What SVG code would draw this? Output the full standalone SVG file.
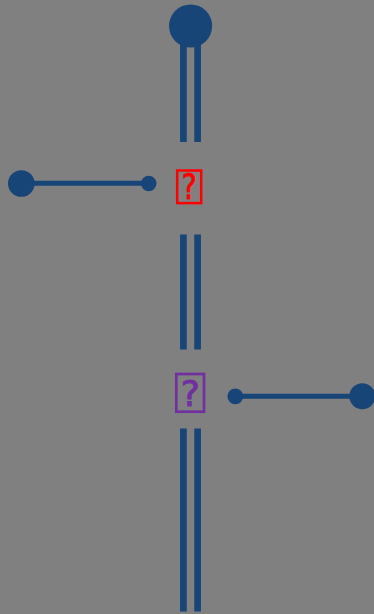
<svg xmlns="http://www.w3.org/2000/svg" width="374" height="614" viewBox="0 0 374 614">
<style>
.bg{fill:#808080}
.dot{fill:#174578}
.wire{stroke:#174578;fill:none}
.v{stroke-width:6.7}
.h{stroke-width:5}
.q{font-family:"DejaVu Sans",sans-serif;text-anchor:middle;stroke-width:0.9}
</style>
<rect class="bg" x="0" y="0" width="374" height="614"/>
<g id="connectors">
<line class="wire v" x1="183.4" y1="30" x2="183.4" y2="142"/>
<line class="wire v" x1="197.6" y1="30" x2="197.6" y2="142"/>
<line class="wire v" x1="183.4" y1="234.5" x2="183.4" y2="349.5"/>
<line class="wire v" x1="197.6" y1="234.5" x2="197.6" y2="349.5"/>
<line class="wire v" x1="183.4" y1="428.5" x2="183.4" y2="611.5"/>
<line class="wire v" x1="197.6" y1="428.5" x2="197.6" y2="611.5"/>
<line class="wire h" x1="21.3" y1="183.3" x2="148.7" y2="183.3"/>
<line class="wire h" x1="235.3" y1="396.3" x2="362.3" y2="396.3"/>
</g>
<g id="top-terminal"><circle class="dot" cx="190.6" cy="26" r="21.6"/></g>
<g id="left-terminal"><circle class="dot" cx="21.3" cy="183.5" r="13.3"/><circle class="dot" cx="148.7" cy="183.5" r="7.8"/></g>
<g id="right-terminal"><circle class="dot" cx="235.3" cy="396.3" r="7.9"/><circle class="dot" cx="362.3" cy="396.3" r="13"/></g>
<g id="node-red">
<rect x="177.2" y="170.5" width="24" height="32.6" fill="none" stroke="#ff0000" stroke-width="2.5"/>
<text class="q" x="189.2" y="198.5" fill="#ff0000" stroke="#ff0000" font-size="35" textLength="15" lengthAdjust="spacingAndGlyphs">?</text>
</g>
<g id="node-purple">
<rect x="176.3" y="374" width="27.7" height="37.7" fill="none" stroke="#7030a0" stroke-width="2.7"/>
<text class="q" x="190.2" y="405.5" fill="#7030a0" stroke="#7030a0" font-size="36">?</text>
</g>
</svg>
